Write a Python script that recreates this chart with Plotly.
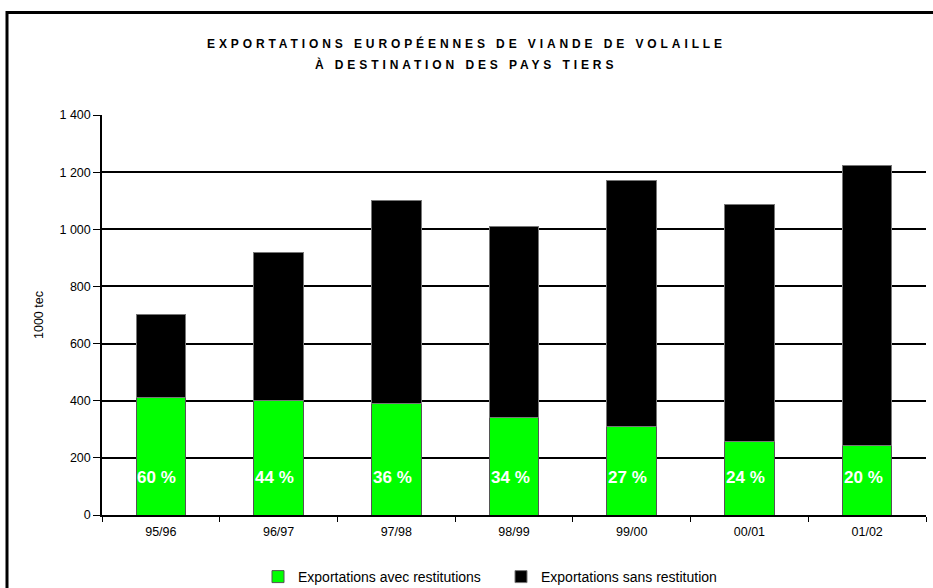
import plotly.graph_objects as go

categories = ["95/96", "96/97", "97/98", "98/99", "99/00", "00/01", "01/02"]
avec_restitutions = [410, 400, 390, 340, 311, 257, 245]
totals = [702, 920, 1100, 1010, 1170, 1087, 1225]
sans_restitution = [t - a for t, a in zip(totals, avec_restitutions)]
pct_labels = ["60 %", "44 %", "36 %", "34 %", "27 %", "24 %", "20 %"]
pct_label_y = [133] * len(categories)
ytick_vals = [0, 200, 400, 600, 800, 1000, 1200, 1400]
ytick_text = ["0", "200", "400", "600", "800", "1 000", "1 200", "1 400"]
title_lines = ["EXPORTATIONS EUROPÉENNES DE VIANDE DE VOLAILLE", "À DESTINATION DES PAYS TIERS"]

W, H = 933, 588
L, R, T, B = 102, 7, 115, 73
pw, ph = W - L - R, H - T - B

def px_x(x):
    return (x - L) / pw

def px_y(y):
    return (H - B - y) / ph

font = "Liberation Sans, Arial, sans-serif"

fig = go.Figure()
fig.add_trace(go.Bar(
    x=categories, y=avec_restitutions, name="Exportations avec restitutions",
    marker=dict(color="#00ff00", line=dict(color="#555555", width=1)),
))
fig.add_trace(go.Bar(
    x=categories, y=sans_restitution, name="Exportations sans restitution",
    marker=dict(color="#000000", line=dict(color="#777777", width=1)),
))

annotations = []
for line, ypx in zip(title_lines, [43, 64]):
    annotations.append(dict(
        text='<span style="letter-spacing:3.9px">' + line + '</span>',
        xref="paper", yref="paper", x=px_x(466), y=px_y(ypx),
        xanchor="center", yanchor="middle", showarrow=False,
        font=dict(size=12, family=font, weight="bold", color="black"),
    ))
for cat, lab, yv in zip(categories, pct_labels, pct_label_y):
    annotations.append(dict(
        text=lab, x=cat, y=yv, xref="x", yref="y", showarrow=False,
        xanchor="center", yanchor="middle", xshift=-4,
        font=dict(size=17, family=font, weight="bold", color="white"),
    ))

fig.update_layout(
    width=W, height=H,
    margin=dict(l=L, r=R, t=T, b=B),
    barmode="stack", bargap=0.58,
    plot_bgcolor="white", paper_bgcolor="white",
    font=dict(family=font, size=13, color="black"),
    annotations=annotations,
    legend=dict(
        orientation="h", xref="container", yref="container",
        x=258 / W, xanchor="left", y=1 - 577 / H, yanchor="middle",
        traceorder="normal",
        font=dict(size=14, family=font), itemwidth=30, tracegroupgap=0,
        entrywidthmode="pixels", entrywidth=198,
    ),
    xaxis=dict(
        showline=True, linecolor="black", linewidth=1.5,
        ticks="outside", tickson="boundaries", ticklen=5, tickcolor="black",
        tickfont=dict(size=12.5), showgrid=False, ticklabelstandoff=4,
    ),
    yaxis=dict(
        range=[0, 1400], tickvals=ytick_vals, ticktext=ytick_text,
        showline=True, linecolor="black", linewidth=1.5,
        ticks="outside", ticklen=7, tickcolor="black",
        showgrid=True, gridcolor="black", gridwidth=1.5,
        zeroline=False, tickfont=dict(size=12.5),
        title=dict(text="1000 tec", font=dict(size=12.5), standoff=13),
    ),
    shapes=[dict(
        type="rect", xref="paper", yref="paper",
        x0=px_x(7), x1=px_x(960), y0=px_y(12.5), y1=px_y(640),
        line=dict(color="black", width=3), layer="above",
    )],
)

fig.write_html(
    "out.html",
    config={"displayModeBar": False},
    post_script="document.body.style.margin='0';document.body.style.overflow='hidden';",
)
